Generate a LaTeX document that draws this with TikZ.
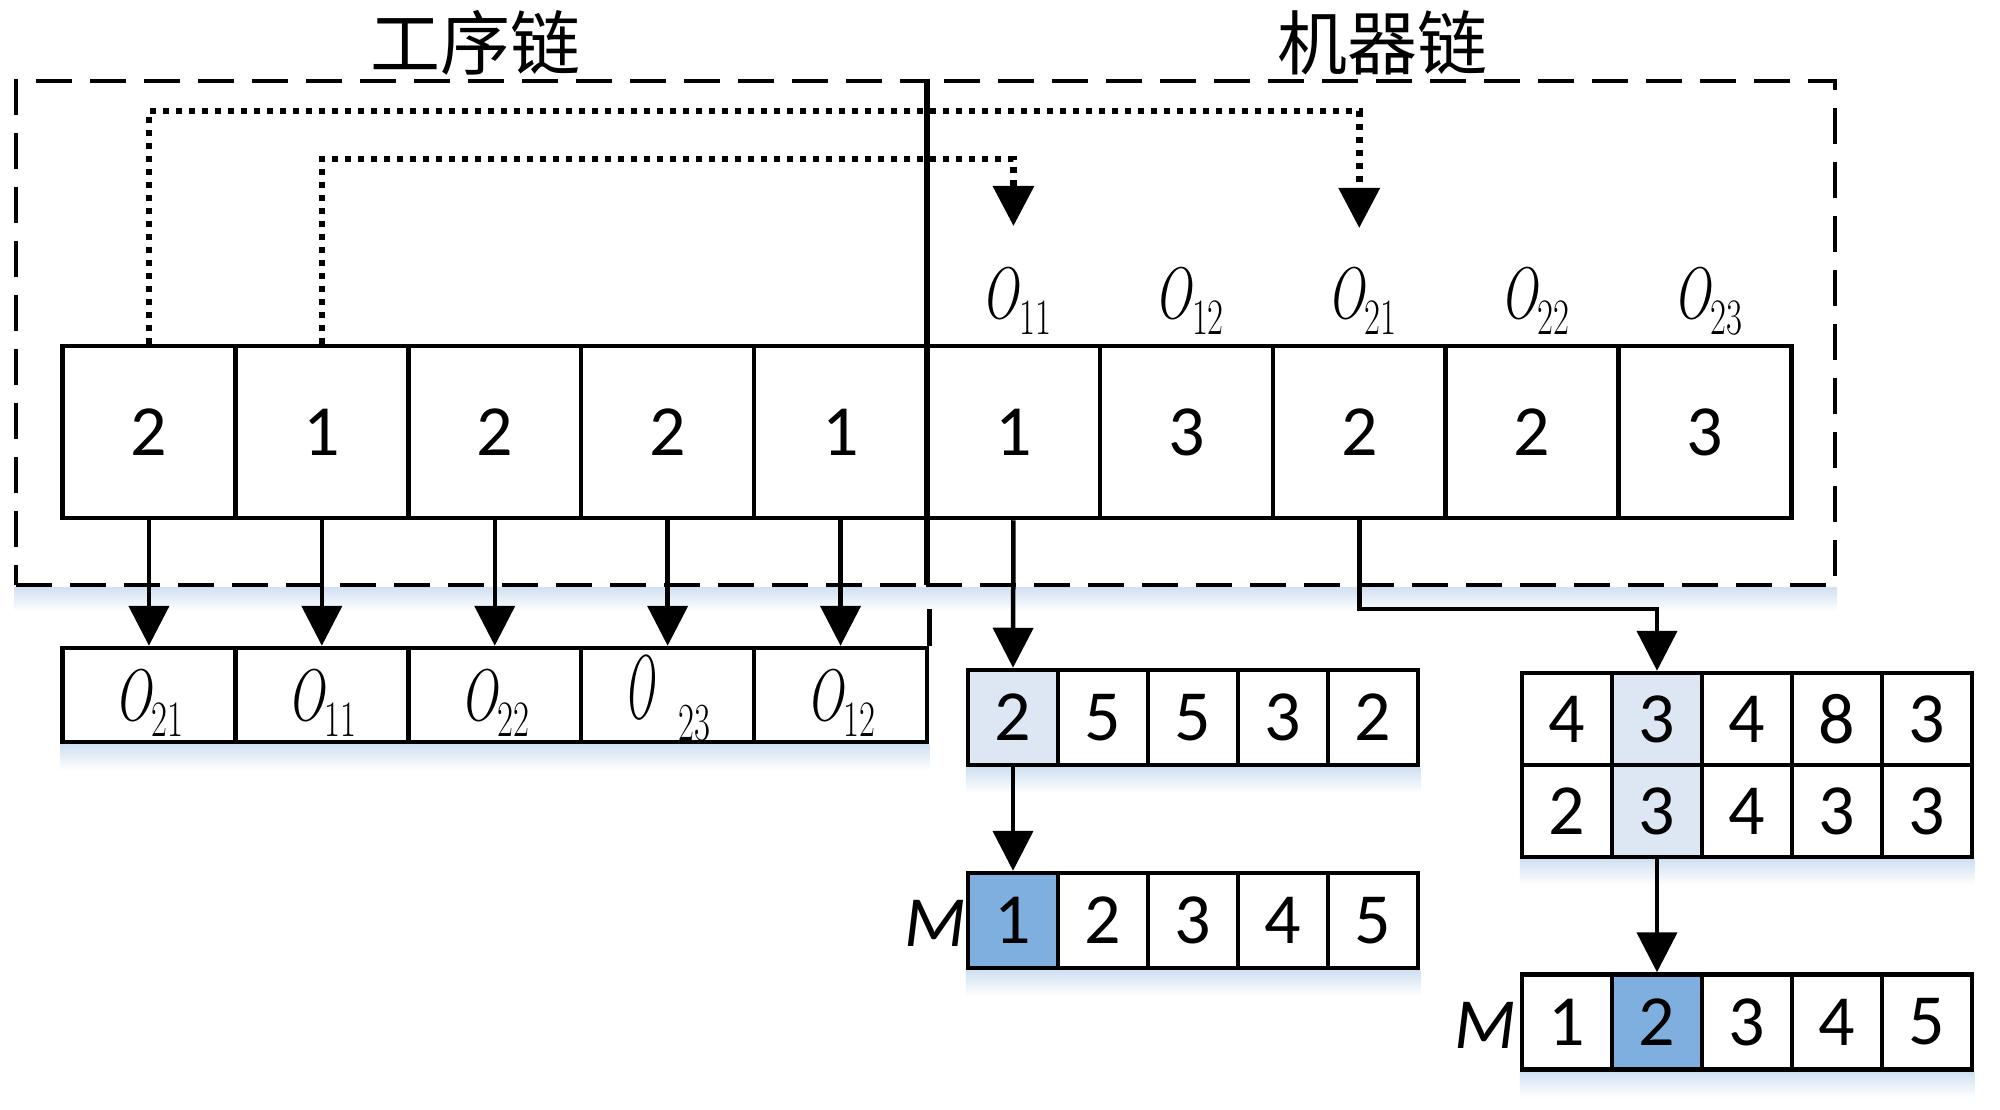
\documentclass[tikz,border=0pt]{standalone}
\usepackage{graphicx}
\usepackage{fontspec}
\usetikzlibrary{arrows.meta,calc}
\newfontfamily\cjk{Noto Sans CJK SC}
\newfontfamily\digf{Carlito}
\definecolor{lightcell}{RGB}{221,231,243}
\definecolor{bluecell}{RGB}{127,175,222}
\definecolor{shadowc}{RGB}{208,224,242}
\pgfdeclarelayer{bg}
\pgfsetlayers{bg,main}
\newcommand{\Olab}[1]{\scalebox{0.68}[1]{\fontsize{73}{80}\selectfont\itshape O\upshape\raisebox{-16pt}{\fontsize{51}{55}\selectfont #1}}}
\begin{document}
\begin{tikzpicture}[x=1pt,y=-1pt,
  cell/.style={draw,line width=4.5pt,inner sep=0pt,font=\digf\fontsize{72}{80}\selectfont},
  big/.style={cell,minimum width=172.9pt,minimum height=172pt},
  orow/.style={cell,minimum width=172.9pt,minimum height=94pt},
  small/.style={cell,minimum width=90pt,minimum height=95pt},
  smallb/.style={cell,minimum width=90pt,minimum height=92pt},
  arr/.style={line width=4.5pt,-{Triangle[length=40pt,width=40pt]}},
  dotarr/.style={line width=6.5pt,dash pattern=on 6pt off 7pt,-{Triangle[length=40pt,width=40pt]}},
  grp/.style={draw,line width=4pt,dash pattern=on 36pt off 18pt,inner sep=0pt},
  olabel/.style={anchor=base,inner sep=0pt},
  mlab/.style={anchor=base east,inner sep=0pt,font=\digf\itshape\fontsize{72}{80}\selectfont},
  title/.style={inner sep=0pt,font=\cjk\fontsize{70}{80}\selectfont}
]
\useasboundingbox (0,0) rectangle (2000,1110);

% titles
\node[title] (t1) at (475,43) {工序链};
\node[title] (t2) at (1382,43) {机器链};

% dashed groups
\node[grp,minimum width=910pt,minimum height=504pt] (gp) at (471,333) {};
\node[grp,minimum width=909pt,minimum height=504pt] (gm) at (1380.5,333) {};
\draw[line width=3pt] (gp.north east) -- (gp.south east);

% chain
\foreach \v [count=\i] in {2,1,2,2,1,1,3,2,2,3}
  \node[big] (c\i) at ({62.5+172.9*(\i-0.5)},432) {\v};

% labels above machine chain
\foreach \s [count=\i from 6] in {11,12,21,22,23}
  \node[olabel] (l\i) at ({62.5+172.9*(\i-0.5)+3},318) {\Olab{\s}};

% operation row
\foreach \i in {1,...,5}
  \node[orow] (o\i) at ({62.5+172.9*(\i-0.5)},695) {};
\node[olabel] (ol1) at (o1 |- 0,720) {\Olab{21}};
\node[olabel] (ol2) at (o2 |- 0,720) {\Olab{11}};
\node[olabel] (ol3) at (o3 |- 0,720) {\Olab{22}};
\node[anchor=base west,inner sep=0pt] (ol4) at (624,718) {\scalebox{0.55}[1.24]{\fontsize{73}{80}\selectfont\itshape O}\hspace{24pt}\raisebox{-22pt}{\scalebox{0.68}[1.05]{\fontsize{51}{55}\selectfont 23}}};
\node[olabel] (ol5) at (o5 |- 0,720) {\Olab{12}};
\draw[line width=4.5pt] (o5.north east) -- ++(0,-37);

% small rows
\foreach \v [count=\j] in {2,5,5,3,2}
  \node[small] (a\j) at ({968+90*(\j-0.5)},717.5) {\v};
\foreach \v [count=\j] in {1,2,3,4,5}
  \node[small] (m\j) at ({968+90*(\j-0.5)},920.5) {\v};
\foreach \v [count=\j] in {4,3,4,8,3}
  \node[smallb] (b\j) at ({1522+90*(\j-0.5)},719) {\v};
\foreach \v [count=\j] in {2,3,4,3,3}
  \node[smallb] (d\j) at ({1522+90*(\j-0.5)},811) {\v};
\foreach \v [count=\j] in {1,2,3,4,5}
  \node[small] (n\j) at ({1522+90*(\j-0.5)},1022) {\v};
\node[small,fill=lightcell] at (a1) {2};
\node[small,fill=bluecell] at (m1) {1};
\node[smallb,fill=lightcell] at (b2) {3};
\node[smallb,fill=lightcell] at (d2) {3};
\node[small,fill=bluecell] at (n2) {2};

\node[mlab] (ml1) at (966,946) {M};
\node[mlab] (ml2) at (1516,1048) {M};

% connectors
\foreach \i in {1,...,5}
  \draw[arr] (c\i.south) -- (o\i.north);
\draw[arr] (c6.south) -- (a1.north);
\draw[arr] (a1.south) -- (m1.north);
\coordinate (elb) at (0,609);
\draw[arr] (c8.south) -- (c8.south |- elb) -| (b2.north);
\draw[arr] (d2.south) -- (n2.north);

\coordinate (h1) at (0,111);
\coordinate (h2) at (0,159);
\coordinate (tipA) at (0,228);
\coordinate (tipB) at (0,226);
\draw[dotarr] (c1.north) -- (c1.north |- h1) -| (c8.north |- tipA);
\draw[dotarr] (c2.north) -- (c2.north |- h2) -| (c6.north |- tipB);

% background and soft shadows
\begin{pgfonlayer}{bg}
\fill[white] (0,0) rectangle (2000,1110);
\shade[top color=shadowc,bottom color=white] (gp.south west) rectangle ($(gm.south east)+(0,24)$);
\shade[top color=shadowc,bottom color=white] (o1.south west) rectangle ($(o5.south east)+(0,26)$);
\shade[top color=shadowc,bottom color=white] (a1.south west) rectangle ($(a5.south east)+(0,26)$);
\shade[top color=shadowc,bottom color=white] (m1.south west) rectangle ($(m5.south east)+(0,26)$);
\shade[top color=shadowc,bottom color=white] (d1.south west) rectangle ($(d5.south east)+(0,26)$);
\shade[top color=shadowc,bottom color=white] (n1.south west) rectangle ($(n5.south east)+(0,26)$);
\end{pgfonlayer}
\end{tikzpicture}
\end{document}
